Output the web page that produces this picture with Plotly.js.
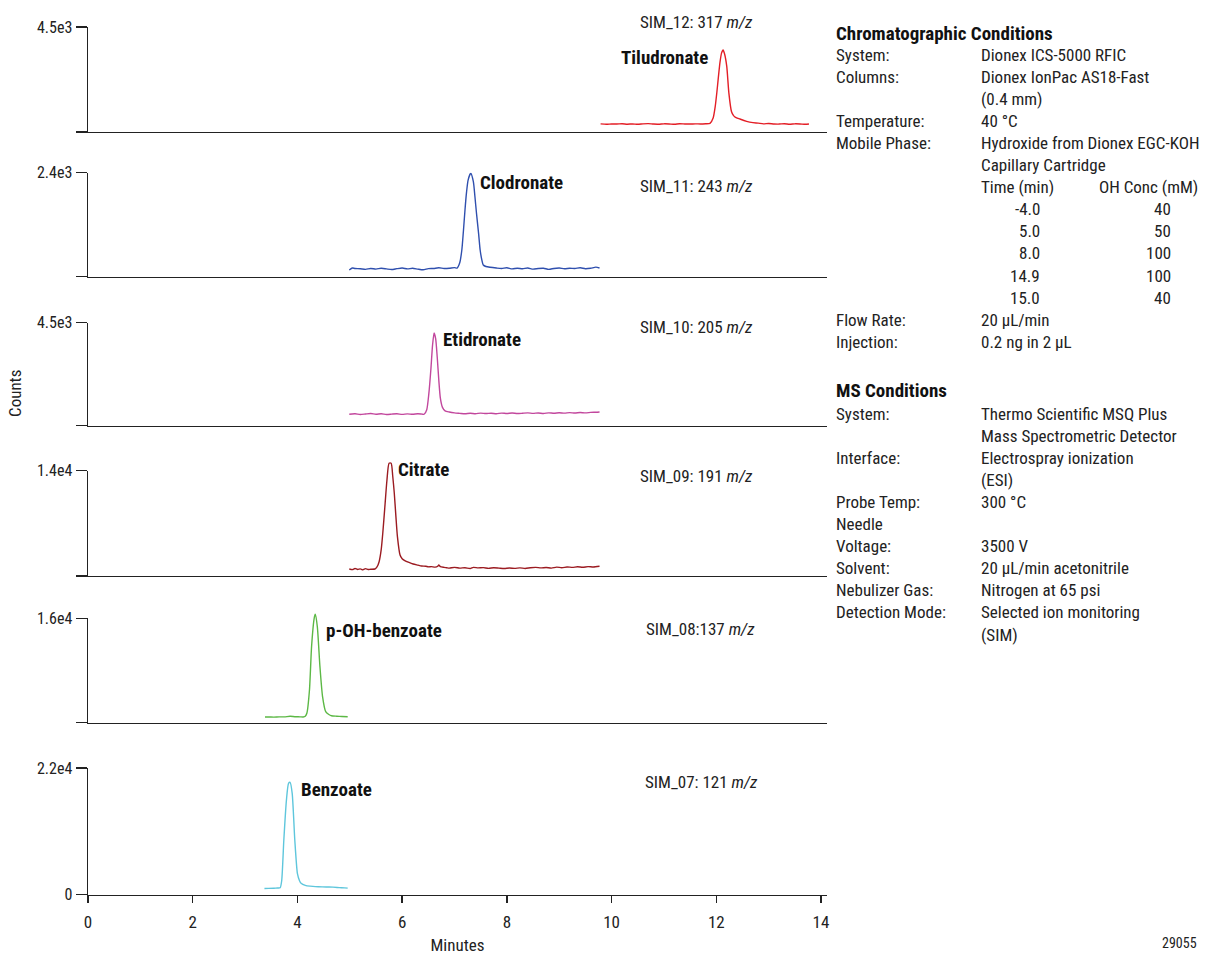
<!DOCTYPE html>
<html>
<head>
<meta charset="utf-8">
<script src="https://cdn.plot.ly/plotly-3.0.1.min.js"></script>
<style>html,body{margin:0;padding:0;background:#fff;}#chart{width:1228px;height:955px;}</style>
</head>
<body>
<div id="chart"></div>
<script>
// ---------------- DATA ----------------
const compounds = ["Tiludronate", "Clodronate", "Etidronate", "Citrate", "p-OH-benzoate", "Benzoate"];
const simLabels = ["SIM_12: 317 <i>m/z</i>", "SIM_11: 243 <i>m/z</i>", "SIM_10: 205 <i>m/z</i>",
                   "SIM_09: 191 <i>m/z</i>", "SIM_08:137 <i>m/z</i>", "SIM_07: 121 <i>m/z</i>"];
const topTickValues = [4500, 2400, 4500, 14000, 16000, 22000];
const topTickLabels = ["4.5e3", "2.4e3", "4.5e3", "1.4e4", "1.6e4", "2.2e4"];
const xTicks = [0, 2, 4, 6, 8, 10, 12, 14];

const tiludronateTime = [9.79,9.9,10.0,10.1,10.2,10.3,10.4,10.5,10.6,10.7,10.8,10.9,11.0,11.1,11.2,11.3,11.4,11.5,11.6,11.7,11.8,11.88,11.94,11.98,12.01,12.04,12.07,12.10,12.13,12.16,12.20,12.24,12.29,12.33,12.36,12.45,12.58,12.7,12.8,12.9,13.0,13.1,13.2,13.3,13.4,13.5,13.6,13.7,13.77];
const tiludronateCounts = [350,330,345,340,355,335,345,330,350,360,340,335,350,345,330,355,345,340,350,345,355,370,600,1100,1680,2350,2970,3380,3520,3330,2810,1680,880,700,640,557,455,400,380,350,365,345,340,355,335,350,345,330,345];

const clodronateTime = [4.99,5.05,5.1,5.2,5.3,5.4,5.5,5.6,5.7,5.8,5.9,6.0,6.1,6.2,6.3,6.4,6.5,6.6,6.7,6.8,6.9,7.0,7.05,7.1,7.14,7.17,7.20,7.23,7.26,7.31,7.36,7.39,7.42,7.46,7.49,7.52,7.55,7.6,7.68,7.8,7.9,8.0,8.1,8.2,8.3,8.4,8.5,8.6,8.7,8.8,8.9,9.0,9.1,9.2,9.3,9.4,9.5,9.6,9.7,9.77];
const clodronateCounts = [155,200,190,185,170,190,175,195,180,165,185,200,180,195,175,160,185,190,205,190,195,210,200,320,616,1050,1535,1950,2230,2386,2192,1850,1463,1000,616,400,270,235,217,200,190,205,180,195,185,200,175,190,195,170,190,200,185,195,190,205,185,195,220,200];

const etidronateTime = [4.99,5.1,5.2,5.3,5.4,5.5,5.6,5.7,5.8,5.9,6.0,6.1,6.2,6.3,6.38,6.42,6.47,6.51,6.55,6.58,6.61,6.64,6.67,6.70,6.73,6.77,6.82,6.9,7.0,7.1,7.2,7.3,7.4,7.5,7.6,7.7,7.8,7.9,8.0,8.1,8.2,8.3,8.4,8.5,8.6,8.7,8.8,8.9,9.0,9.1,9.2,9.3,9.4,9.5,9.6,9.7,9.77];
const etidronateCounts = [500,520,490,510,530,500,520,490,505,520,495,515,500,520,505,500,700,1400,2500,3500,4050,3800,3000,2000,1200,800,650,600,560,540,520,545,525,550,530,545,525,550,535,555,530,545,560,540,555,535,560,545,565,550,570,555,575,560,580,590,600];

const citrateTime = [4.99,5.05,5.1,5.15,5.2,5.25,5.3,5.35,5.4,5.48,5.52,5.56,5.60,5.63,5.67,5.71,5.75,5.79,5.82,5.85,5.88,5.91,5.96,6.0,6.05,6.13,6.21,6.3,6.37,6.45,6.5,6.56,6.63,6.68,6.70,6.73,6.8,6.85,6.9,7.0,7.1,7.2,7.3,7.36,7.45,7.55,7.65,7.75,7.85,7.95,8.05,8.15,8.25,8.35,8.45,8.55,8.65,8.75,8.85,8.95,9.05,9.15,9.25,9.35,9.45,9.55,9.65,9.77];
const citrateCounts = [930,850,1000,870,950,820,980,860,900,930,1200,1900,3500,5680,9200,12770,14990,14990,13300,11000,8000,5230,2790,2300,2040,1800,1600,1450,1330,1300,1220,1240,1180,1300,1460,1250,1150,1100,1050,1150,1050,1100,1000,1150,1080,1120,1020,1100,1050,1000,1060,1020,1080,1000,1100,1150,1080,1130,1050,1180,1100,1200,1150,1220,1160,1250,1200,1290];

const pohTime = [3.38,3.45,3.55,3.65,3.75,3.86,3.95,4.05,4.11,4.15,4.18,4.23,4.27,4.32,4.34,4.38,4.43,4.48,4.54,4.6,4.65,4.75,4.85,4.96];
const pohCounts = [870,880,860,900,890,980,920,900,880,1000,1440,5010,11650,16000,16620,14720,8590,3990,1690,1250,1070,1000,950,920];

const benzoateTime = [3.37,3.45,3.55,3.62,3.67,3.70,3.74,3.79,3.83,3.86,3.90,3.95,4.00,4.04,4.07,4.15,4.24,4.4,4.55,4.68,4.8,4.9,4.96];
const benzoateCounts = [1050,1060,1090,1130,1170,2440,9430,16410,19330,19500,17580,9430,3610,2400,1970,1600,1450,1350,1300,1280,1200,1150,1100];

const seriesTime = [tiludronateTime, clodronateTime, etidronateTime, citrateTime, pohTime, benzoateTime];
const seriesCounts = [tiludronateCounts, clodronateCounts, etidronateCounts, citrateCounts, pohCounts, benzoateCounts];

// Conditions text
const chromHeader = "Chromatographic Conditions";
const chromLabels = ["System:", "Columns:", "", "Temperature:", "Mobile Phase:", "", "", "", "", "", "", "", "Flow Rate:", "Injection:"];
const chromValues = ["Dionex ICS-5000 RFIC", "Dionex IonPac AS18-Fast", "(0.4 mm)", "40 °C", "Hydroxide from Dionex EGC-KOH", "Capillary Cartridge", "Time (min)", "", "", "", "", "", "20 µL/min", "0.2 ng in 2 µL"];
const gradHeader2 = "OH Conc (mM)";
const gradTime = ["-4.0", "5.0", "8.0", "14.9", "15.0"];
const gradConc = ["40", "50", "100", "100", "40"];
const msHeader = "MS Conditions";
const msLabels = ["System:", "", "Interface:", "", "Probe Temp:", "Needle", "Voltage:", "Solvent:", "Nebulizer Gas:", "Detection Mode:", ""];
const msValues = ["Thermo Scientific MSQ Plus", "Mass Spectrometric Detector", "Electrospray ionization", "(ESI)", "300 °C", "", "3500 V", "20 µL/min acetonitrile", "Nitrogen at 65 psi", "Selected ion monitoring", "(SIM)"];
const figureId = "29055";

// ---------------- STYLE / LAYOUT ----------------
const W = 1228, H = 955;
const FONT = "'Roboto Condensed', Roboto, sans-serif";
const FS = 17, FSB = 19;
const colors = ["#e31e26", "#2f4fae", "#c2479d", "#9b1b21", "#5cb845", "#5ec6dc"];
const panelBase = [132, 276.7, 425.7, 576, 722.7, 894.5];
const panelTop = [27, 172.7, 322.7, 470.7, 618.3, 768];
const panelHeadroom = [0, 0, 0, 10, 6, 0]; // px above the top tick where the peak may still be drawn
const labelPos = [[619, 57], [478, 182], [441, 339], [396, 469], [324, 630], [299, 789]];
const simPos = [[638, 22], [638, 186], [638, 327], [638, 476], [644, 629], [643, 782]];

const px = v => v / W;
const py = v => 1 - v / H;
const axId = (n) => n === 1 ? "" : String(n);

const xPx0 = 88, xPx14 = 821, xRightPx = 827;
const pxPerMin = (xPx14 - xPx0) / 14;
const xRange = [0, 14 + (xRightPx - xPx14) / pxPerMin];

const layout = {
  width: W, height: H,
  margin: {l: 0, r: 0, t: 0, b: 0},
  paper_bgcolor: "#fff",
  plot_bgcolor: "rgba(0,0,0,0)",
  showlegend: false,
  font: {family: FONT, color: "#222", size: FS},
  annotations: [],
};
const data = [];
let hiddenId = 7;

for (let i = 0; i < 6; i++) {
  const n = i + 1;
  const isLast = i === 5;
  const xa = {
    domain: [px(xPx0), px(xRightPx)],
    range: xRange,
    anchor: "y" + axId(n),
    showline: true, linecolor: "#222", linewidth: isLast ? 1.6 : 1.4,
    showgrid: false, zeroline: false,
    ticks: isLast ? "outside" : "", ticklen: 7, tickwidth: 1.4, tickcolor: "#222",
    tickmode: "array",
    tickvals: isLast ? xTicks : [],
    showticklabels: isLast,
    ticklabelstandoff: 4,
    tickfont: {size: FS, family: FONT, color: "#222"},
    fixedrange: true,
  };
  if (isLast) {
    xa.title = {text: "Minutes", font: {size: FS, family: FONT, color: "#222"}, standoff: 10};
  }
  layout["xaxis" + axId(n)] = xa;

  const base = panelBase[i], top = panelTop[i], extra = panelHeadroom[i];
  const hPx = base - top;
  layout["yaxis" + axId(n)] = {
    domain: [py(base), py(top)],
    range: [0, topTickValues[i]],
    anchor: "x" + axId(n),
    showline: true, linecolor: "#222", linewidth: 1.4,
    showgrid: false, zeroline: false,
    ticks: "outside", ticklen: 11, tickwidth: 1.4, tickcolor: "#222",
    tickmode: "array",
    tickvals: [0, topTickValues[i]],
    ticktext: [isLast ? "0" : "", topTickLabels[i]],
    tickfont: {size: FS - 1, family: FONT, color: "#222"},
    fixedrange: true,
  };

  let traceY = "y" + axId(n);
  if (extra > 0) {
    // same scale as the visible axis, but with some headroom so the peak is not clipped
    const hid = hiddenId++;
    layout["yaxis" + hid] = {
      domain: [py(base), py(top - extra)],
      range: [0, topTickValues[i] * (hPx + extra) / hPx],
      anchor: "x" + axId(n),
      visible: false,
      fixedrange: true,
    };
    traceY = "y" + hid;
    // empty placeholder so that the visible axis pair keeps its own subplot
    data.push({type: "scatter", mode: "lines", x: [], y: [],
               xaxis: "x" + axId(n), yaxis: "y" + axId(n), hoverinfo: "skip", showlegend: false});
  }

  data.push({
    type: "scatter", mode: "lines",
    x: seriesTime[i], y: seriesCounts[i],
    xaxis: "x" + axId(n), yaxis: traceY,
    line: {color: colors[i], width: 1.4, shape: "spline", smoothing: 0.6},
    name: compounds[i],
    hoverinfo: "x+y+name",
  });

  layout.annotations.push({
    xref: "paper", yref: "paper", x: px(labelPos[i][0]), y: py(labelPos[i][1]),
    xanchor: "left", yanchor: "middle", showarrow: false,
    text: "<b>" + compounds[i] + "</b>",
    font: {size: FSB, family: FONT, color: "#111"},
  });
  layout.annotations.push({
    xref: "paper", yref: "paper", x: px(simPos[i][0]), y: py(simPos[i][1]),
    xanchor: "left", yanchor: "middle", showarrow: false,
    text: simLabels[i],
    font: {size: FS, family: FONT, color: "#222"},
  });
}

function addText(text, xPx, yPx, anchor, opts) {
  layout.annotations.push(Object.assign({
    xref: "paper", yref: "paper", x: px(xPx), y: py(yPx),
    xanchor: anchor, yanchor: "middle", showarrow: false,
    text: text, font: {size: FS, family: FONT, color: "#222"},
  }, opts || {}));
}

// Y title
addText("Counts", 15, 394, "center", {textangle: -90});

// Chromatographic conditions
const labX = 834, valX = 979, step = 22.05;
addText("<b>" + chromHeader + "</b>", labX, 33, "left", {font: {size: FSB, family: FONT, color: "#111"}});
for (let k = 0; k < chromLabels.length; k++) {
  const y = 55 + k * step;
  if (chromLabels[k]) addText(chromLabels[k], labX, y, "left");
  if (chromValues[k]) addText(chromValues[k], valX, y, "left");
}
addText(gradHeader2, 1200, 55 + 6 * step, "right");
for (let k = 0; k < gradTime.length; k++) {
  const y = 55 + (7 + k) * step;
  addText(gradTime[k], 1042, y, "right");
  addText(gradConc[k], 1173, y, "right");
}

// MS conditions
addText("<b>" + msHeader + "</b>", labX, 391, "left", {font: {size: FSB, family: FONT, color: "#111"}});
for (let k = 0; k < msLabels.length; k++) {
  const y = 414 + k * step;
  if (msLabels[k]) addText(msLabels[k], labX, y, "left");
  if (msValues[k]) addText(msValues[k], valX, y, "left");
}

addText(figureId, 1199, 943, "right", {font: {size: 14, family: FONT, color: "#222"}});

Plotly.newPlot("chart", data, layout, {staticPlot: true, displayModeBar: false});
</script>
</body>
</html>
